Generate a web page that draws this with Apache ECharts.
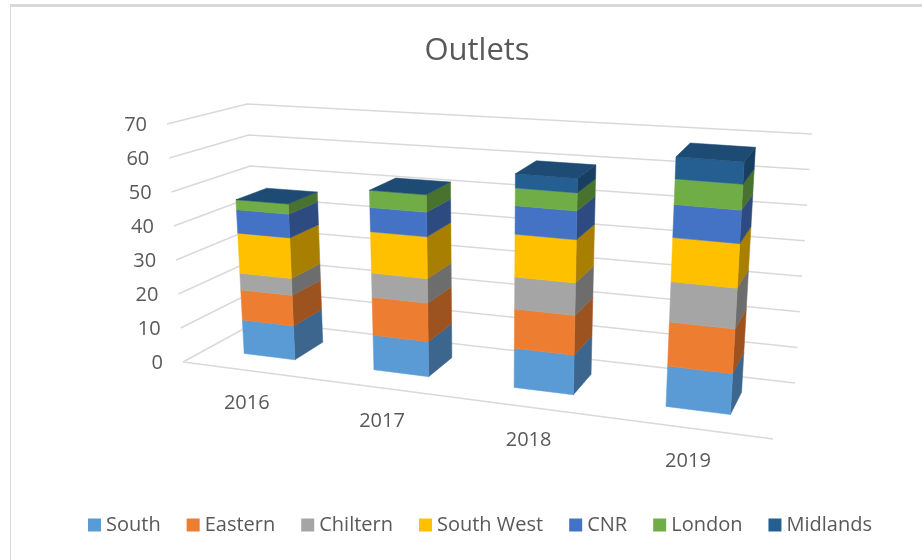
<!DOCTYPE html>
<html>
<head>
<meta charset="utf-8">
<title>Outlets</title>
<script src="https://cdn.jsdelivr.net/npm/echarts@6/dist/echarts.min.js"></script>
<style>
html, body { margin: 0; padding: 0; background: #fff; }
#chart { width: 922px; height: 560px; }
</style>
</head>
<body>
<div id="chart"></div>
<script>
var categories = ['2016', '2017', '2018', '2019'];
var valueTicks = [0, 10, 20, 30, 40, 50, 60, 70];
var south = [10, 10, 11, 11];
var eastern = [9, 11, 11, 12];
var chiltern = [5, 7, 9, 11];
var southWest = [12, 12, 12, 12];
var cnr = [7, 7, 8, 9];
var london = [3, 5, 5, 7];
var midlands = [0, 0, 4, 6];

var seriesNames = ['South', 'Eastern', 'Chiltern', 'South West', 'CNR', 'London', 'Midlands'];
var seriesValues = [south, eastern, chiltern, southWest, cnr, london, midlands];
var seriesColors = ['#5B9BD5', '#ED7D31', '#A5A5A5', '#FFC000', '#4472C4', '#70AD47', '#255E91'];

var textColor = '#595959';
var gridColor = '#D9D9D9';
var fontName = '"Open Sans", "Noto Sans", sans-serif';

// floor corners on screen: front-left, front-right, back-right, back-left
var floorQuad = [[183, 362], [773, 439], [795, 383], [258, 321]];
// full axis height in px above the same four corners
var wallHeight = [238, 268, 249, 217];
// verticals converge on this point far below the chart
var vanish = [487, 4884];

var barWidth = 0.4;  // share of one category slot
var depthFrom = 0.3, depthTo = 0.71;

// unit square -> quad (perspective)
function quadMatrix(q) {
    var x0 = q[0][0], y0 = q[0][1], x1 = q[1][0], y1 = q[1][1];
    var x2 = q[2][0], y2 = q[2][1], x3 = q[3][0], y3 = q[3][1];
    var dx1 = x1 - x2, dx2 = x3 - x2, sx = x0 - x1 + x2 - x3;
    var dy1 = y1 - y2, dy2 = y3 - y2, sy = y0 - y1 + y2 - y3;
    var det = dx1 * dy2 - dx2 * dy1;
    var g = (sx * dy2 - dx2 * sy) / det;
    var h = (dx1 * sy - sx * dy1) / det;
    return [x1 - x0 + g * x1, x3 - x0 + h * x3, x0, y1 - y0 + g * y1, y3 - y0 + h * y3, y0, g, h];
}
var floorMatrix = quadMatrix(floorQuad);

// u across, v up (0..1), w into the picture
function project(u, v, w) {
    var m = floorMatrix;
    var d = m[6] * u + m[7] * w + 1;
    var px = (m[0] * u + m[1] * w + m[2]) / d;
    var py = (m[3] * u + m[4] * w + m[5]) / d;
    var front = wallHeight[0] + (wallHeight[1] - wallHeight[0]) * u;
    var back = wallHeight[3] + (wallHeight[2] - wallHeight[3]) * u;
    var rise = (front + (back - front) * w) * v;
    return [px + (px - vanish[0]) * rise / (vanish[1] - py), py - rise];
}

// position from the hidden grid's scales, as fractions
function toUnit(params, api, cat, val) {
    var p = api.coord([cat, val]);
    var c = params.coordSys;
    return [(p[0] - c.x) / c.width, (c.y + c.height - p[1]) / c.height];
}

function darker(hex, k) {
    var n = parseInt(hex.slice(1), 16);
    var r = Math.round((n >> 16 & 255) * k), g = Math.round((n >> 8 & 255) * k), b = Math.round((n & 255) * k);
    return 'rgb(' + r + ',' + g + ',' + b + ')';
}

function face(points, fill) {
    return {
        type: 'polygon',
        shape: { points: points },
        style: { fill: fill, stroke: fill, lineWidth: 0.5 }
    };
}

function stackSeries(idx) {
    var color = seriesColors[idx];
    var rows = categories.map(function (c, i) {
        var start = 0;
        for (var k = 0; k < idx; k++) start += seriesValues[k][i];
        return [i, start, start + seriesValues[idx][i]];
    });
    return {
        name: seriesNames[idx],
        type: 'custom',
        data: rows,
        itemStyle: { color: color },
        renderItem: function (params, api) {
            var cat = api.value(0);
            var low = toUnit(params, api, cat, api.value(1));
            var high = toUnit(params, api, cat, api.value(2));
            var half = api.size([1, 0])[0] / params.coordSys.width * barWidth / 2;
            var l = low[0] - half, r = low[0] + half;
            var children = [];
            if (high[1] > low[1]) {
                children.push(face([
                    project(r, low[1], depthFrom), project(r, low[1], depthTo),
                    project(r, high[1], depthTo), project(r, high[1], depthFrom)
                ], darker(color, 0.66)));
                children.push(face([
                    project(l, low[1], depthFrom), project(r, low[1], depthFrom),
                    project(r, high[1], depthFrom), project(l, high[1], depthFrom)
                ], color));
            }
            // top of the whole stack
            if (idx === seriesNames.length - 1) {
                children.push(face([
                    project(l, high[1], depthFrom), project(r, high[1], depthFrom),
                    project(r, high[1], depthTo), project(l, high[1], depthTo)
                ], darker(color, 0.8)));
            }
            return { type: 'group', children: children };
        }
    };
}

// walls, floor and value labels
var wallSeries = {
    type: 'custom',
    silent: true,
    data: valueTicks.map(function (t) { return [0, t]; }),
    renderItem: function (params, api) {
        var t = api.value(1);
        var v = toUnit(params, api, 0, t)[1];
        var a = project(0, v, 0), b = project(0, v, 1), c = project(1, v, 1);
        var children = [
            {
                type: 'polyline',
                shape: { points: [a, b, c] },
                style: { fill: 'none', stroke: gridColor, lineWidth: 1.5 }
            },
            {
                type: 'text',
                style: {
                    x: a[0] - 20, y: a[1] + 1, text: String(t), fill: textColor,
                    font: '20px ' + fontName, align: 'right', verticalAlign: 'middle'
                }
            }
        ];
        if (t === 0) {
            children.push({
                type: 'line',
                shape: { x1: a[0], y1: a[1], x2: project(1, 0, 0)[0], y2: project(1, 0, 0)[1] },
                style: { stroke: gridColor, lineWidth: 1.5 }
            });
        }
        return { type: 'group', children: children };
    }
};

// category labels under the front edge
var categorySeries = {
    type: 'custom',
    silent: true,
    data: categories.map(function (c, i) { return [i, 0]; }),
    renderItem: function (params, api) {
        var i = api.value(0);
        var u = toUnit(params, api, i, 0)[0];
        var p = project(u, 0, 0);
        return {
            type: 'text',
            style: {
                x: p[0], y: p[1] + 33, text: categories[i], fill: textColor,
                font: '20px ' + fontName, align: 'center', verticalAlign: 'middle'
            }
        };
    }
};

var chart = echarts.init(document.getElementById('chart'));
chart.setOption({
    animation: false,
    backgroundColor: '#fff',
    color: seriesColors,
    title: {
        text: 'Outlets',
        left: 472,
        top: 31,
        textAlign: 'center',
        textStyle: { color: textColor, fontFamily: fontName, fontSize: 31, fontWeight: 'normal' }
    },
    legend: {
        data: seriesNames,
        left: 83,
        top: 510,
        icon: 'rect',
        itemWidth: 13,
        itemHeight: 13,
        itemGap: 26,
        selectedMode: false,
        textStyle: { color: textColor, fontFamily: fontName, fontSize: 20 }
    },
    grid: { left: 100, right: 100, top: 100, bottom: 100 },
    xAxis: { type: 'category', data: categories, show: false },
    yAxis: { type: 'value', min: 0, max: 70, interval: 10, show: false },
    graphic: [
        { type: 'rect', silent: true, shape: { x: 10, y: 4, width: 912, height: 3 }, style: { fill: '#D9D9D9' } },
        { type: 'rect', silent: true, shape: { x: 10, y: 4, width: 1, height: 556 }, style: { fill: '#D9D9D9' } }
    ],
    series: [wallSeries, categorySeries].concat(seriesNames.map(function (n, i) { return stackSeries(i); }))
});
</script>
</body>
</html>
